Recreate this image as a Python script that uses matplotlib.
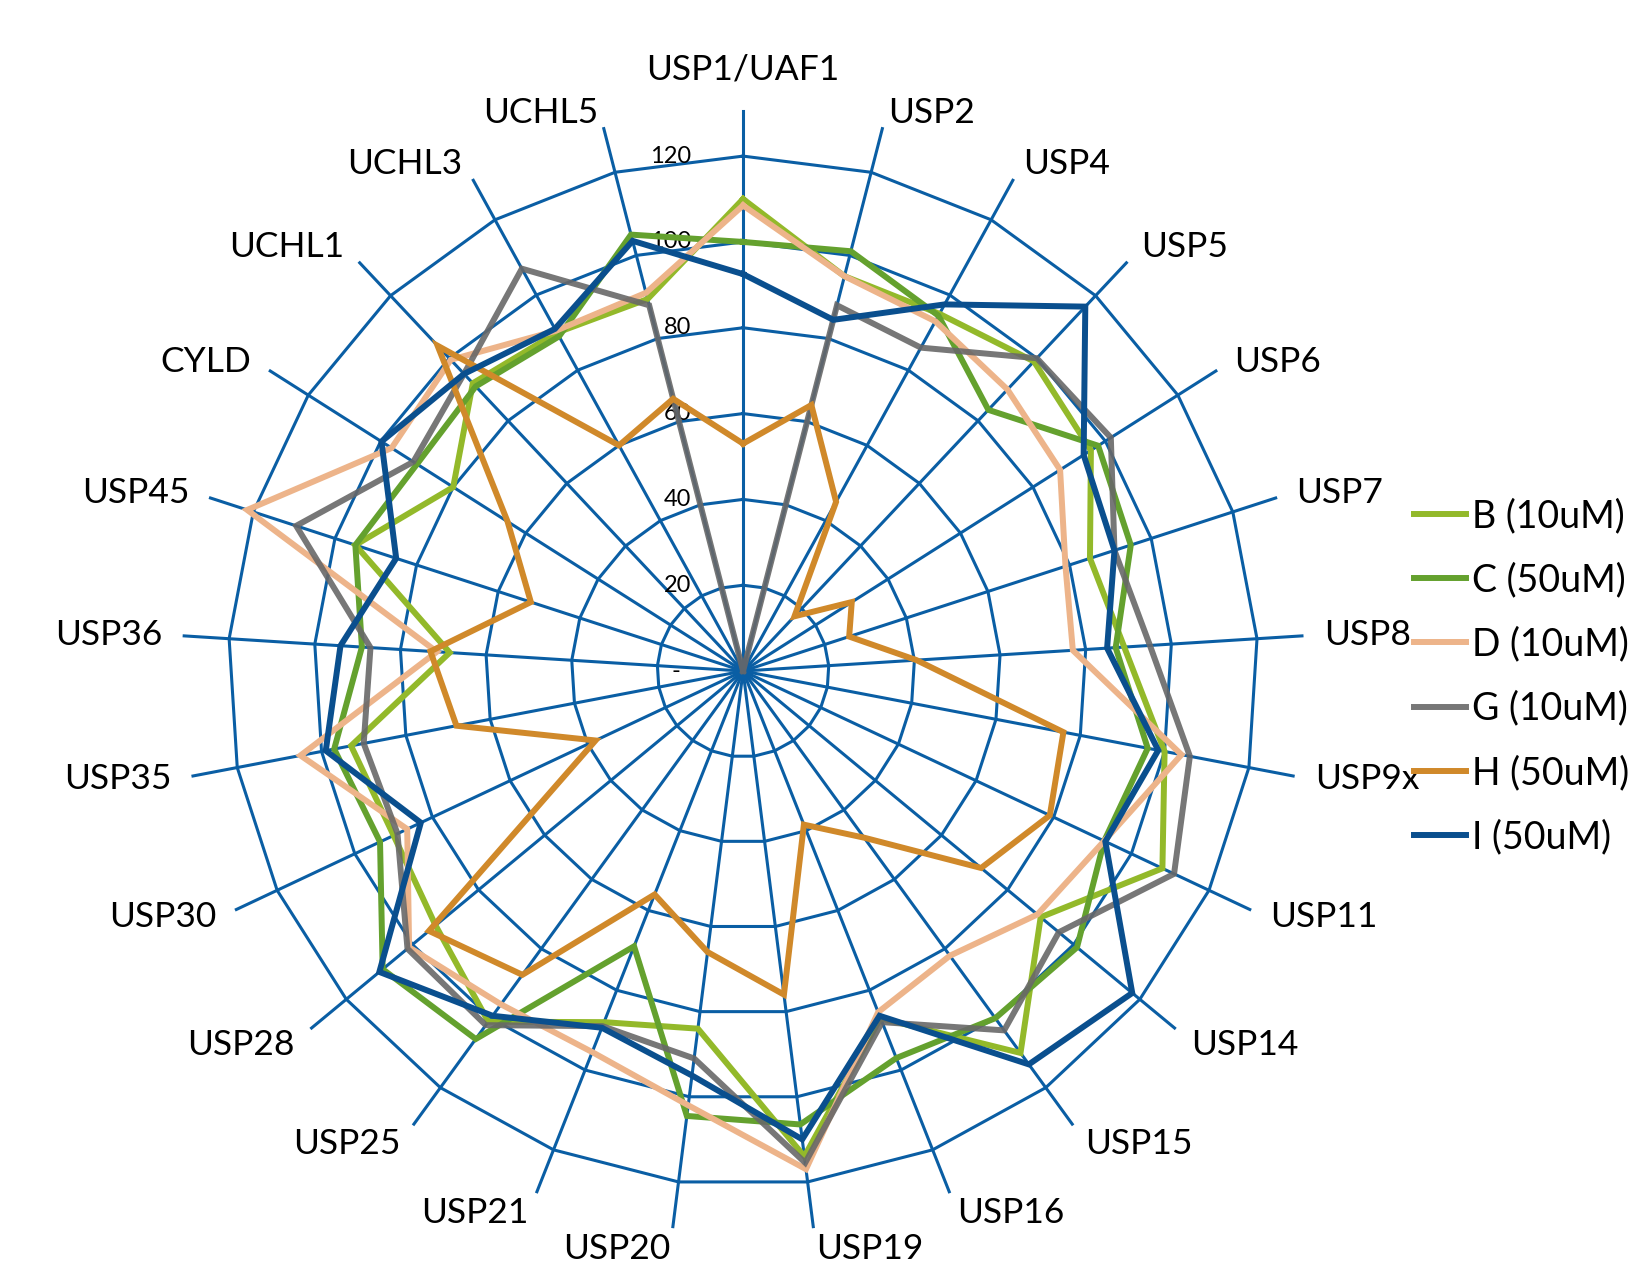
import numpy as np
import matplotlib.pyplot as plt

categories = ['USP1/UAF1', 'USP2', 'USP4', 'USP5', 'USP6', 'USP7', 'USP8', 'USP9x',
              'USP11', 'USP14', 'USP15', 'USP16', 'USP19', 'USP20', 'USP21', 'USP25',
              'USP28', 'USP30', 'USP35', 'USP36', 'USP45', 'CYLD', 'UCHL1', 'UCHL3', 'UCHL5']

b_10 = [110, 95, 95, 99, 96, 85, 89, 100, 108, 90, 110, 87, 114, 84, 88, 101,
        93, 90, 93, 68.5, 95, 80, 92, 90, 89.5]
c_50 = [100, 101, 94.5, 83.5, 98, 95, 87, 96, 93, 101, 100, 97, 106.5, 104.5, 69, 106,
        109, 93.5, 97, 89, 95, 90, 91, 89, 105]
d_10 = [108.5, 95, 93, 90, 87.5, 79, 77, 104, 93, 89, 82, 85.5, 117, 102, 95.5, 96,
        101, 86.5, 105, 71.5, 121.5, 97, 99.5, 90.5, 91]
g_10 = [0, 88, 86, 100, 101.5, 91, 95, 106, 111, 95.5, 103.5, 88, 115.5, 91, 89, 102,
        101.5, 89, 90, 87, 109.5, 91, 95, 107, 88]
h_50 = [53, 64, 45, 17.5, 30, 26, 40.5, 76, 79, 72, 48, 38.5, 76, 66, 56, 87.5,
        95, 38, 68, 73, 52, 65, 104, 60, 65.5]
i_50 = [92.5, 84.5, 97.5, 116.5, 94, 91, 85, 98.5, 93.3, 117.7, 113.3, 86.4, 110, 95, 89.4, 99.3,
        110, 83, 99, 94, 85, 99.8, 95, 91, 103.5]

series_names = ['B (10uM)', 'C (50uM)', 'D (10uM)', 'G (10uM)', 'H (50uM)', 'I (50uM)']
series_values = [b_10, c_50, d_10, g_10, h_50, i_50]
series_colors = ['#93B92A', '#64A12E', '#EDB48A', '#686868', '#D0892A', '#0A4F8E']

ticks = [20, 40, 60, 80, 100, 120]
grid_color = '#0A5EA4'

plt.rcParams['font.family'] = ['Lato', 'DejaVu Sans']

n = len(categories)
angles = np.arange(n) * 2 * np.pi / n
closed = np.append(angles, angles[0])
spoke_len = 130.5

fig = plt.figure(figsize=(16.36, 12.69), dpi=100)
ax = fig.add_axes([0.1119, 0.0299, 0.6846, 0.8826], projection='polar')
ax.set_theta_zero_location('N')
ax.set_theta_direction(-1)
ax.set_ylim(0, spoke_len)
ax.axis('off')

# polygon web
for r in ticks:
    ax.plot(closed, [r] * (n + 1), color=grid_color, lw=2.2, zorder=1, clip_on=False)
for a in angles:
    ax.plot([a, a], [0, spoke_len], color=grid_color, lw=2.2, zorder=1, clip_on=False)

# value labels along the top spoke
for r in ticks:
    ax.annotate(str(r), xy=(0, r), xytext=(-52, 0), textcoords='offset pixels',
                ha='right', va='center', fontsize=17, annotation_clip=False)
ax.annotate('-', xy=(0, 0), xytext=(-67, 0), textcoords='offset pixels',
            ha='center', va='center', fontsize=17, annotation_clip=False)

# category labels
for a, cat in zip(angles, categories):
    s, c = np.sin(a), np.cos(a)
    if abs(s) < 0.05:
        ha = 'center'
    else:
        ha = 'left' if s > 0 else 'right'
    if c > 0.99:
        va, dy = 'bottom', 26
    elif c > 0.6:
        va, dy = 'bottom', 0
    elif c < -0.6:
        va, dy = 'top', min(0, 14 * (c + 0.55))
    else:
        va, dy = 'center', 17 * c
    ax.annotate(cat, xy=(a, spoke_len), xytext=(22 * s, dy), textcoords='offset pixels',
                ha=ha, va=va, fontsize=25.5, annotation_clip=False)

# data
handles = []
for name, vals, col in zip(series_names, series_values, series_colors):
    vals_closed = np.append(vals, vals[0])
    alpha = 0.9 if name.startswith('G') else 1.0
    line, = ax.plot(closed, vals_closed, color=col, lw=4.3, alpha=alpha, zorder=3,
                    solid_joinstyle='miter', label=name, clip_on=False)
    handles.append(line)

ax.legend(handles=handles, loc='upper left', bbox_to_anchor=(0.8643, 0.6073),
          bbox_transform=fig.transFigure, frameon=False, fontsize=27,
          handlelength=1.39, handletextpad=0.15, labelspacing=0.75,
          borderpad=0, borderaxespad=0)

fig.savefig('out.png', dpi=100)
